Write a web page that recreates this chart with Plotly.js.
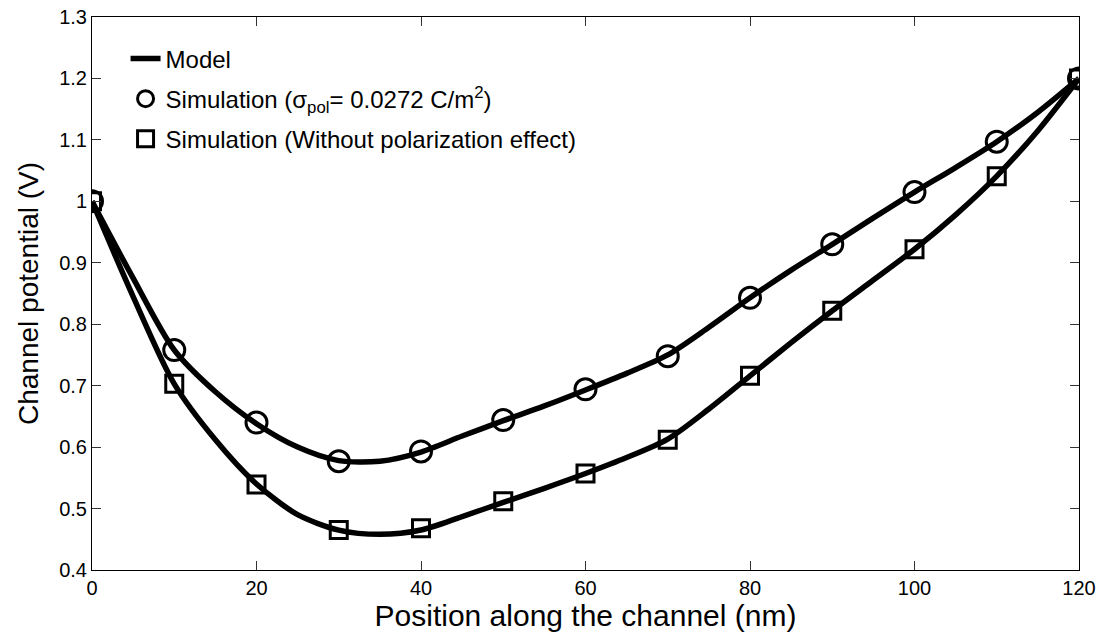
<!DOCTYPE html>
<html>
<head>
<meta charset="utf-8">
<script src="https://cdn.plot.ly/plotly-3.0.1.min.js"></script>
<style>html,body{margin:0;padding:0;background:#fff;}#chart{width:1103px;height:633px;}</style>
</head>
<body>
<div id="chart"></div>
<script>
// Model curves (dense)
var modelX = [0,5,10,15,20,25,30,35,40,45,50,55,60,65,70,75,80,85,90,95,100,105,110,115,120];
var modelPol = [1.0,0.875,0.758,0.690,0.638,0.600,0.578,0.577,0.592,0.618,0.643,0.667,0.693,0.720,0.750,0.795,0.843,0.888,0.930,0.973,1.015,1.055,1.097,1.145,1.2];
var modelNoPol = [1.0,0.845,0.703,0.612,0.540,0.490,0.465,0.458,0.465,0.487,0.510,0.533,0.557,0.583,0.613,0.662,0.716,0.770,0.822,0.872,0.922,0.978,1.041,1.115,1.2];
// Simulation points
var simX = [0,10,20,30,40,50,60,70,80,90,100,110,120];
var simPol = [1.0,0.758,0.640,0.577,0.593,0.644,0.694,0.748,0.843,0.930,1.015,1.097,1.2];
var simNoPol = [1.0,0.703,0.539,0.465,0.468,0.512,0.557,0.612,0.716,0.822,0.922,1.041,1.2];
var xTicks = [0,20,40,60,80,100,120];
var yTicks = [0.4,0.5,0.6,0.7,0.8,0.9,1,1.1,1.2,1.3];

var traces = [
  {x: modelX, y: modelPol, mode: 'lines', name: 'Model', legendgroup: 'a',
   line: {color: '#000', width: 5.5, shape: 'spline', smoothing: 0.8}},
  {x: modelX, y: modelNoPol, mode: 'lines', name: 'Model', legendgroup: 'a', showlegend: false,
   line: {color: '#000', width: 5.5, shape: 'spline', smoothing: 0.8}},
  {x: simX, y: simPol, mode: 'markers', name: 'Simulation (σ<sub>pol</sub>= 0.0272 C/m<sup>2</sup>)', legendgroup: 'b',
   marker: {symbol: 'circle-open', size: 21, color: '#000', line: {width: 3, color: '#000'}}},
  {x: simX, y: simNoPol, mode: 'markers', name: 'Simulation (Without polarization effect)', legendgroup: 'c',
   marker: {symbol: 'square-open', size: 17, color: '#000', line: {width: 3, color: '#000'}}}
];

var font = 'Arial, "Liberation Sans", sans-serif';
var layout = {
  width: 1103, height: 633,
  margin: {l: 92, r: 24, t: 17, b: 63},
  paper_bgcolor: '#fff', plot_bgcolor: '#fff',
  font: {family: font, color: '#000', size: 20},
  showlegend: true,
  legend: {x: 0.034, y: 0.965, xanchor: 'left', yanchor: 'top', bgcolor: 'rgba(0,0,0,0)',
           font: {family: font, size: 24, color: '#000'}, tracegroupgap: 6, itemsizing: 'trace'},
  xaxis: {range: [0, 120], tickvals: xTicks, ticktext: xTicks.map(String),
          showgrid: false, zeroline: false, showline: true, linecolor: '#000', linewidth: 1,
          mirror: 'ticks', ticks: 'inside', ticklen: 9, tickcolor: '#333', tickwidth: 1,
          tickfont: {size: 20}, automargin: false,
          title: {text: 'Position along the channel (nm)', font: {size: 30}, standoff: 0}},
  yaxis: {range: [0.4, 1.3], tickvals: yTicks, ticktext: yTicks.map(String),
          showgrid: false, zeroline: false, showline: true, linecolor: '#000', linewidth: 1,
          mirror: 'ticks', ticks: 'inside', ticklen: 9, tickcolor: '#333', tickwidth: 1,
          tickfont: {size: 20}, automargin: false,
          title: {text: 'Channel potential (V)', font: {size: 28}, standoff: 12}}
};

Plotly.newPlot('chart', traces, layout, {displayModeBar: false, staticPlot: true});
</script>
</body>
</html>
